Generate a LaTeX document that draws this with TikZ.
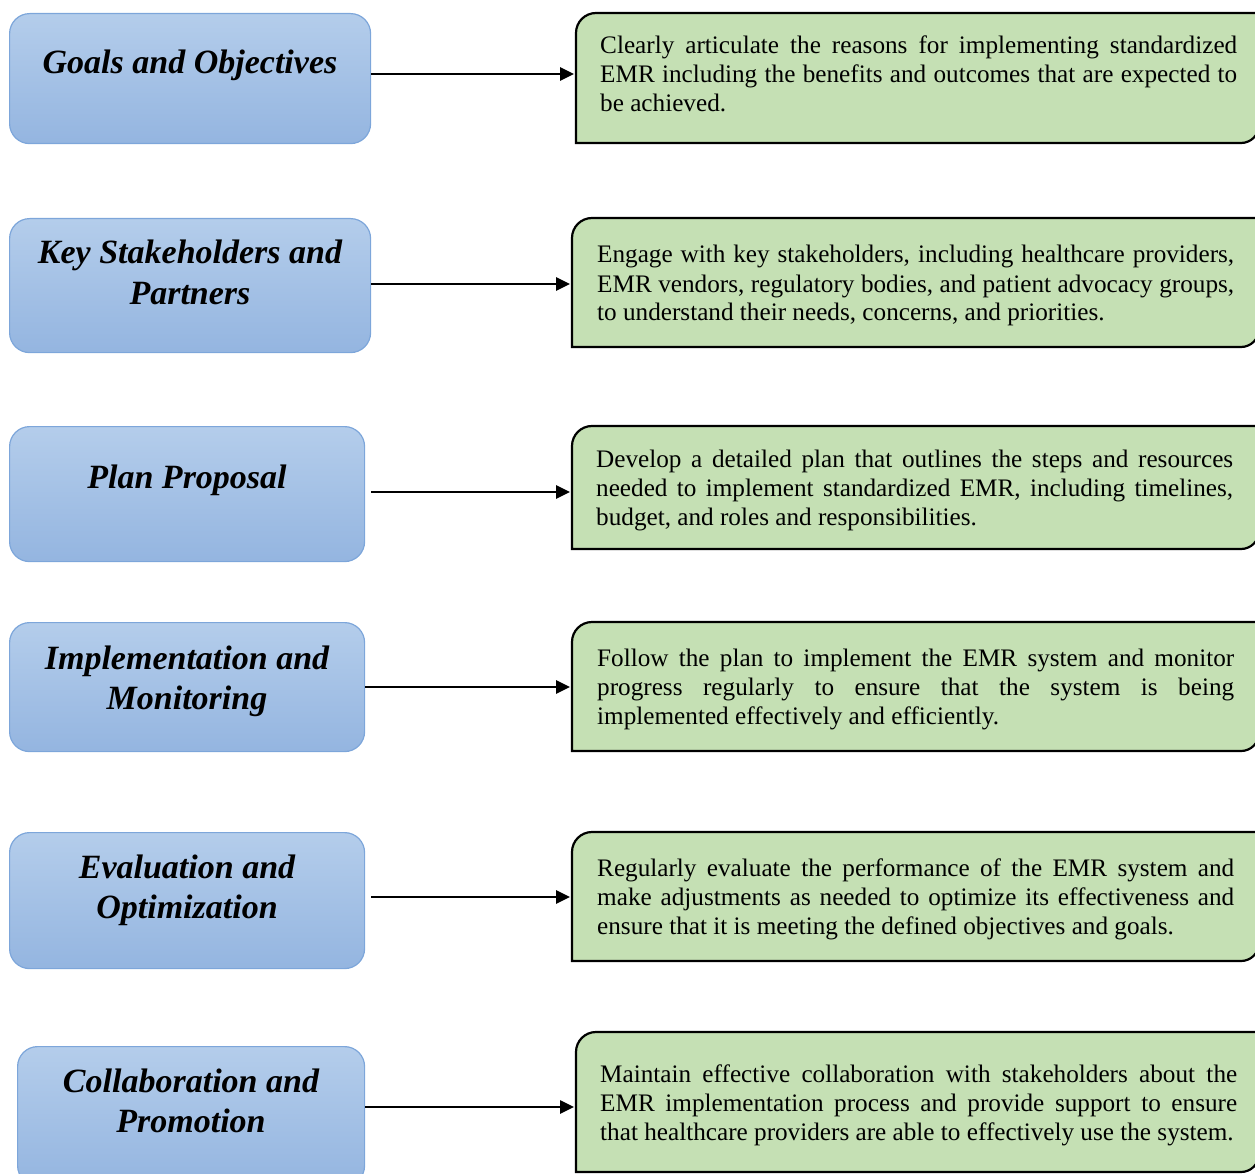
\documentclass[tikz,border=0pt]{standalone}
\usepackage{fontspec}
\setmainfont{Liberation Serif}
\usetikzlibrary{arrows.meta}
\definecolor{bluetop}{RGB}{180,205,235}
\definecolor{bluebot}{RGB}{148,181,224}
\definecolor{blueedge}{RGB}{125,166,218}
\definecolor{greenfill}{RGB}{197,224,180}
\tikzset{
  bluebox/.style={draw=blueedge, line width=1.2pt, rounded corners=20pt,
    top color=bluetop, bottom color=bluebot, inner sep=0pt, anchor=north west},
  headtext/.style={font=\fontsize{34}{40}\selectfont\bfseries\itshape,
    align=center, inner sep=0pt, anchor=base},
  greenbox/.style={draw=black, line width=2.2pt, fill=greenfill},
  bodytext/.style={font=\fontsize{25.2}{29}\selectfont, text width=637pt,
    align=justify, inner sep=0pt, anchor=base west},
  arr/.style={draw=black, line width=2.6pt, -{Triangle[length=14pt,width=13pt]}}
}
\begin{document}
\begin{tikzpicture}[x=1pt,y=-1pt]
\path[use as bounding box] (0,0) rectangle (1255,1174);
\clip (0,0) rectangle (1255,1174);

% ---------- row 1
\node[bluebox, minimum width=361pt, minimum height=130pt] (b1) at (9,13) {};
\node[headtext] (h1) at (190,74) {Goals and Objectives};
\draw[greenbox] (576,143) [rounded corners=20pt] -- (576,13) [sharp corners] -- (1259,13) [rounded corners=18pt] -- (1259,143) [sharp corners] -- cycle;
\node[bodytext] (t1) at (600,54) {Clearly articulate the reasons for implementing standardized\linebreak EMR including the benefits and outcomes that are expected to\linebreak be achieved.};
\coordinate (g1) at (574,74);
\draw[arr] (b1.east |- g1) -- (g1);

% ---------- row 2
\node[bluebox, minimum width=361pt, minimum height=134pt] (b2) at (9,218) {};
\node[headtext] (h2) at (190,304) {Key Stakeholders and\\Partners};
\draw[greenbox] (572,347) [rounded corners=20pt] -- (572,218) [sharp corners] -- (1259,218) [rounded corners=18pt] -- (1259,347) [sharp corners] -- cycle;
\node[bodytext] (t2) at (597,263) {Engage with key stakeholders, including healthcare providers,\linebreak EMR vendors, regulatory bodies, and patient advocacy groups,\linebreak to understand their needs, concerns, and priorities.};
\coordinate (g2) at (570,284);
\draw[arr] (b2.east |- g2) -- (g2);

% ---------- row 3
\node[bluebox, minimum width=355pt, minimum height=135pt] (b3) at (9,426) {};
\node[headtext] (h3) at (187,488) {Plan Proposal};
\draw[greenbox] (572,549) [rounded corners=20pt] -- (572,426) [sharp corners] -- (1259,426) [rounded corners=18pt] -- (1259,549) [sharp corners] -- cycle;
\node[bodytext] (t3) at (596,467) {Develop a detailed plan that outlines the steps and resources\linebreak needed to implement standardized EMR, including timelines,\linebreak budget, and roles and responsibilities.};
\coordinate (g3) at (570,492);
\draw[arr] ([xshift=6pt]b3.east |- g3) -- (g3);

% ---------- row 4
\node[bluebox, minimum width=355pt, minimum height=129pt] (b4) at (9,622) {};
\node[headtext] (h4) at (187,709) {Implementation and\\Monitoring};
\draw[greenbox] (572,751) [rounded corners=20pt] -- (572,622) [sharp corners] -- (1259,622) [rounded corners=18pt] -- (1259,751) [sharp corners] -- cycle;
\node[bodytext] (t4) at (597,666) {Follow the plan to implement the EMR system and monitor\linebreak progress regularly to ensure that the system is being\linebreak implemented effectively and efficiently.};
\coordinate (g4) at (570,687);
\draw[arr] (b4.east |- g4) -- (g4);

% ---------- row 5
\node[bluebox, minimum width=355pt, minimum height=136pt] (b5) at (9,832) {};
\node[headtext] (h5) at (187,918) {Evaluation and\\Optimization};
\draw[greenbox] (572,961) [rounded corners=20pt] -- (572,832) [sharp corners] -- (1259,832) [rounded corners=18pt] -- (1259,961) [sharp corners] -- cycle;
\node[bodytext] (t5) at (597,876) {Regularly evaluate the performance of the EMR system and\linebreak make adjustments as needed to optimize its effectiveness and\linebreak ensure that it is meeting the defined objectives and goals.};
\coordinate (g5) at (570,897);
\draw[arr] ([xshift=6pt]b5.east |- g5) -- (g5);

% ---------- row 6
\node[bluebox, minimum width=347pt, minimum height=139pt] (b6) at (17,1046) {};
\node[headtext] (h6) at (191,1132) {Collaboration and\\Promotion};
\draw[greenbox] (576,1172) [rounded corners=20pt] -- (576,1032) [sharp corners] -- (1259,1032) [rounded corners=18pt] -- (1259,1172) [sharp corners] -- cycle;
\node[bodytext] (t6) at (600,1082) {Maintain effective collaboration with stakeholders about the\linebreak EMR implementation process and provide support to ensure\linebreak that healthcare providers are able to effectively use the system.\parfillskip=0pt};
\coordinate (g6) at (574,1107);
\draw[arr] (b6.east |- g6) -- (g6);
\end{tikzpicture}
\end{document}
